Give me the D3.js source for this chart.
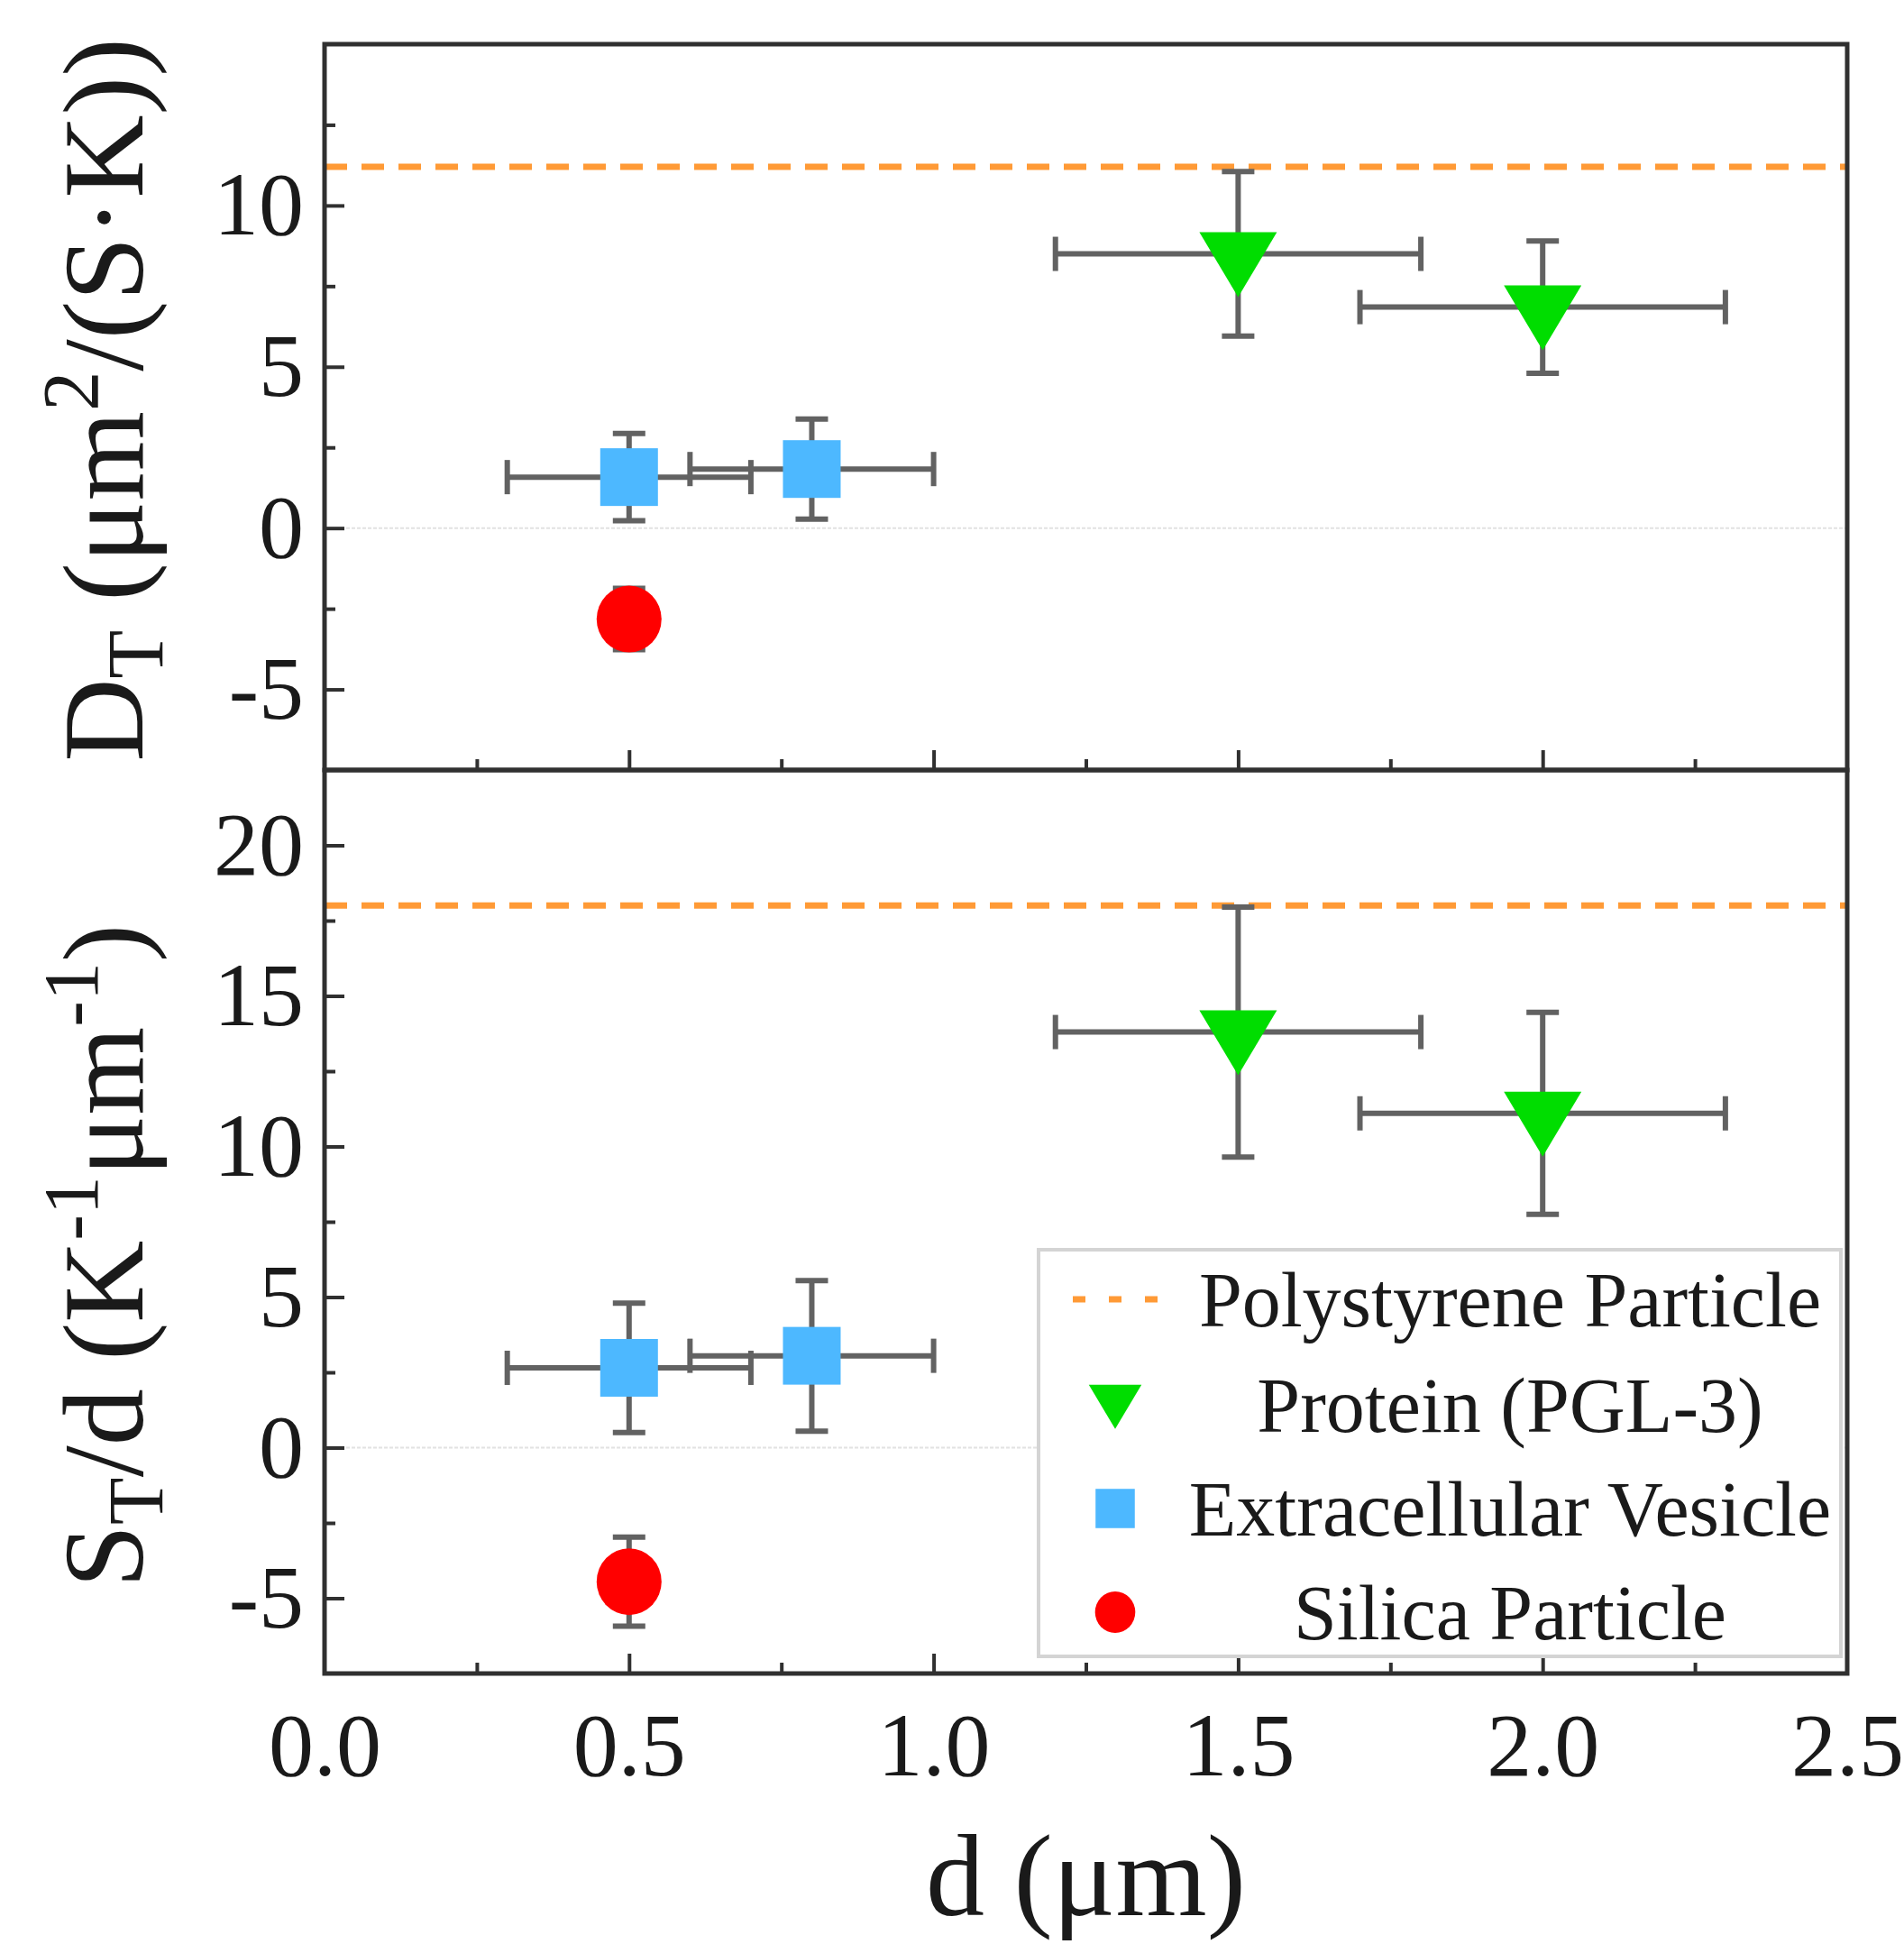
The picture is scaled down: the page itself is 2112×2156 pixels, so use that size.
<!DOCTYPE html>
<html>
<head>
<meta charset="utf-8">
<script src="https://cdn.jsdelivr.net/npm/d3@7"></script>
<style>
  html, body { margin: 0; padding: 0; background: #fff; }
  svg { display: block; }
  text { font-family: "Liberation Serif", "DejaVu Serif", serif; fill: #1a1a1a; }
</style>
</head>
<body>
<svg id="chart" width="2112" height="2156"></svg>
<script>
// ---------------- DATA ----------------
const legendLabels = ["Polystyrene Particle", "Protein (PGL-3)", "Extracellular Vesicle", "Silica Particle"];

const xTicks = [0.0, 0.5, 1.0, 1.5, 2.0, 2.5];
const xMinorTicks = [0.25, 0.75, 1.25, 1.75, 2.25];
const topYTicks = [-5, 0, 5, 10];
const topYMinorTicks = [-7.5, -2.5, 2.5, 7.5, 12.5];
const botYTicks = [-5, 0, 5, 10, 15, 20];
const botYMinorTicks = [-7.5, -2.5, 2.5, 7.5, 12.5, 17.5];

// reference lines (polystyrene particle)
const polystyreneDT = 11.2;
const polystyreneST = 18.0;

// protein (PGL-3)
const proteinD = [1.5, 2.0];
const proteinDErr = [0.3, 0.3];
const proteinDT = [8.5, 6.85];
const proteinDTErr = [2.55, 2.05];
const proteinST = [13.8, 11.1];
const proteinSTErr = [4.15, 3.35];

// extracellular vesicle
const vesicleD = [0.5, 0.8];
const vesicleDErr = [0.2, 0.2];
const vesicleDT = [1.58, 1.83];
const vesicleDTErr = [1.35, 1.55];
const vesicleST = [2.65, 3.05];
const vesicleSTErr = [2.15, 2.5];

// silica particle
const silicaD = [0.5];
const silicaDErr = [0];
const silicaDT = [-2.82];
const silicaDTErr = [0.95];
const silicaST = [-4.45];
const silicaSTErr = [1.48];

// ---------------- STYLE ----------------
const colOrange = "#FF9A36";
const colGreen = "#00DD00";
const colBlue = "#4DB8FF";
const colRed = "#FF0000";
const colErr = "#626262";
const colFrame = "#303030";

const L = 360, R = 2049, T = 49, M = 854, B = 1856;

const svg = d3.select("#chart");

const x = d3.scaleLinear().domain([0, 2.5]).range([L, R]);
const yTop = d3.scaleLinear().domain([-7.5, 15]).range([M, T]);
const yBot = d3.scaleLinear().domain([-7.5, 22.5]).range([B, M]);

const hyphenInt = d => String(d);

function panel(y, yTicks, yMinor, top, bottom, showXLabels, data, psVal) {
  const g = svg.append("g");

  // zero line
  g.append("line")
    .attr("x1", L).attr("x2", R)
    .attr("y1", y(0)).attr("y2", y(0))
    .attr("stroke", "#e2e2e2").attr("stroke-width", 2)
    .attr("stroke-dasharray", "4 2");

  // polystyrene dashed line
  g.append("line")
    .attr("x1", L).attr("x2", R)
    .attr("y1", y(psVal)).attr("y2", y(psVal))
    .attr("stroke", colOrange).attr("stroke-width", 7)
    .attr("stroke-dasharray", "25 16");

  // error bars then markers
  const capV = 18, capH = 19;
  data.forEach(s => {
    s.xs.forEach((xv, i) => {
      const cx = x(xv), cy = y(s.ys[i]);
      const eg = g.append("g").attr("stroke", colErr).attr("stroke-width", 6).attr("fill", "none");
      if (s.xe[i] > 0) {
        const x0 = x(xv - s.xe[i]), x1 = x(xv + s.xe[i]);
        eg.append("line").attr("x1", x0).attr("x2", x1).attr("y1", cy).attr("y2", cy);
        eg.append("line").attr("x1", x0).attr("x2", x0).attr("y1", cy - capH).attr("y2", cy + capH);
        eg.append("line").attr("x1", x1).attr("x2", x1).attr("y1", cy - capH).attr("y2", cy + capH);
      }
      const y0 = y(s.ys[i] + s.ye[i]), y1 = y(s.ys[i] - s.ye[i]);
      eg.append("line").attr("x1", cx).attr("x2", cx).attr("y1", y0).attr("y2", y1);
      eg.append("line").attr("x1", cx - capV).attr("x2", cx + capV).attr("y1", y0).attr("y2", y0);
      eg.append("line").attr("x1", cx - capV).attr("x2", cx + capV).attr("y1", y1).attr("y2", y1);
    });
  });
  data.forEach(s => {
    s.xs.forEach((xv, i) => {
      drawMarker(g, s.shape, x(xv), y(s.ys[i]), 1);
    });
  });

  // ticks: x (pointing up, inward) at the panel bottom
  const xAxis = d3.axisBottom(x).tickValues(xTicks).tickSize(-22).tickPadding(42)
    .tickFormat(showXLabels ? d3.format(".1f") : () => "");
  const xa = g.append("g").attr("transform", `translate(0,${bottom})`).call(xAxis);
  const xAxisMinor = d3.axisBottom(x).tickValues(xMinorTicks).tickSize(-12).tickFormat(() => "");
  const xm = g.append("g").attr("transform", `translate(0,${bottom})`).call(xAxisMinor);

  const yAxis = d3.axisLeft(y).tickValues(yTicks).tickSize(-22).tickPadding(23).tickFormat(hyphenInt);
  const ya = g.append("g").attr("transform", `translate(${L},0)`).call(yAxis);
  const yAxisMinor = d3.axisLeft(y).tickValues(yMinor).tickSize(-12).tickFormat(() => "");
  const ym = g.append("g").attr("transform", `translate(${L},0)`).call(yAxisMinor);

  [xa, xm, ya, ym].forEach(a => {
    a.select(".domain").remove();
    a.selectAll(".tick line").attr("stroke", colFrame).attr("stroke-width", 4);
    a.selectAll(".tick text").attr("font-size", 100).attr("font-family", "Liberation Serif").attr("fill", "#1a1a1a");
  });
  xa.selectAll(".tick").filter(d => d === 0 || d === 2.5).select("line").remove();
  ya.selectAll(".tick").filter(d => y(d) <= top + 1 || y(d) >= bottom - 1).select("line").remove();
  ym.selectAll(".tick").filter(d => y(d) <= top + 1 || y(d) >= bottom - 1).select("line").remove();

  // frame
  g.append("rect")
    .attr("x", L).attr("y", top).attr("width", R - L).attr("height", bottom - top)
    .attr("fill", "none").attr("stroke", colFrame).attr("stroke-width", 5);
}

function drawMarker(g, shape, cx, cy, scale) {
  if (shape === "tri") {
    const w = 86 * scale, h = 72 * scale;
    g.append("path")
      .attr("d", `M${cx - w / 2},${cy - h / 3}L${cx + w / 2},${cy - h / 3}L${cx},${cy + 2 * h / 3}Z`)
      .attr("fill", colGreen);
  } else if (shape === "sq") {
    const s = 64 * scale;
    g.append("rect").attr("x", cx - s / 2).attr("y", cy - s / 2).attr("width", s).attr("height", s)
      .attr("fill", colBlue);
  } else if (shape === "circ") {
    g.append("ellipse").attr("cx", cx).attr("cy", cy).attr("rx", 36 * scale).attr("ry", 37 * scale)
      .attr("fill", colRed);
  }
}

const topData = [
  { shape: "tri", xs: proteinD, xe: proteinDErr, ys: proteinDT, ye: proteinDTErr },
  { shape: "sq", xs: vesicleD, xe: vesicleDErr, ys: vesicleDT, ye: vesicleDTErr },
  { shape: "circ", xs: silicaD, xe: silicaDErr, ys: silicaDT, ye: silicaDTErr }
];
const botData = [
  { shape: "tri", xs: proteinD, xe: proteinDErr, ys: proteinST, ye: proteinSTErr },
  { shape: "sq", xs: vesicleD, xe: vesicleDErr, ys: vesicleST, ye: vesicleSTErr },
  { shape: "circ", xs: silicaD, xe: silicaDErr, ys: silicaST, ye: silicaSTErr }
];

panel(yTop, topYTicks, topYMinorTicks, T, M, false, topData, polystyreneDT);
panel(yBot, botYTicks, botYMinorTicks, M, B, true, botData, polystyreneST);

// ---------------- AXIS TITLES ----------------
svg.append("text")
  .attr("x", (L + R) / 2).attr("y", 2124)
  .attr("text-anchor", "middle").attr("font-size", 130)
  .text("d (μm)");

const t1 = svg.append("text")
  .attr("transform", `translate(158,${(T + M) / 2 - 8}) rotate(-90)`)
  .attr("text-anchor", "middle").attr("font-size", 128);
t1.append("tspan").text("D");
t1.append("tspan").attr("font-size", 88).attr("dy", 22).text("T");
t1.append("tspan").attr("dy", -22).text(" (μm");
t1.append("tspan").attr("font-size", 88).attr("dy", -50).text("2");
t1.append("tspan").attr("dy", 50).text("/(S·K))");

const t2 = svg.append("text")
  .attr("transform", `translate(158,${(M + B) / 2 + 38}) rotate(-90)`)
  .attr("text-anchor", "middle").attr("font-size", 126);
t2.append("tspan").text("S");
t2.append("tspan").attr("font-size", 86).attr("dy", 22).text("T");
t2.append("tspan").attr("dy", -22).text("/d (K");
t2.append("tspan").attr("font-size", 86).attr("dy", -50).text("-1");
t2.append("tspan").attr("dy", 50).text("μm");
t2.append("tspan").attr("font-size", 86).attr("dy", -50).text("-1");
t2.append("tspan").attr("dy", 50).text(")");

// ---------------- LEGEND ----------------
const lg = svg.append("g");
lg.append("rect")
  .attr("x", 1152).attr("y", 1386).attr("width", 890).attr("height", 451)
  .attr("fill", "#fff").attr("stroke", "#d4d4d4").attr("stroke-width", 4);
const rowY = [1441, 1558, 1673, 1788];
const symX = 1237;
lg.append("line")
  .attr("x1", 1190).attr("x2", 1290).attr("y1", rowY[0]).attr("y2", rowY[0])
  .attr("stroke", colOrange).attr("stroke-width", 7).attr("stroke-dasharray", "14 26");
drawMarker(lg, "tri", symX, rowY[1] - 6, 0.68);
drawMarker(lg, "sq", symX, rowY[2], 0.68);
drawMarker(lg, "circ", symX, rowY[3], 0.62);
legendLabels.forEach((lab, i) => {
  lg.append("text")
    .attr("x", 1675).attr("y", rowY[i]).attr("dy", "0.35em")
    .attr("text-anchor", "middle").attr("font-size", 86)
    .text(lab);
});
</script>
</body>
</html>
